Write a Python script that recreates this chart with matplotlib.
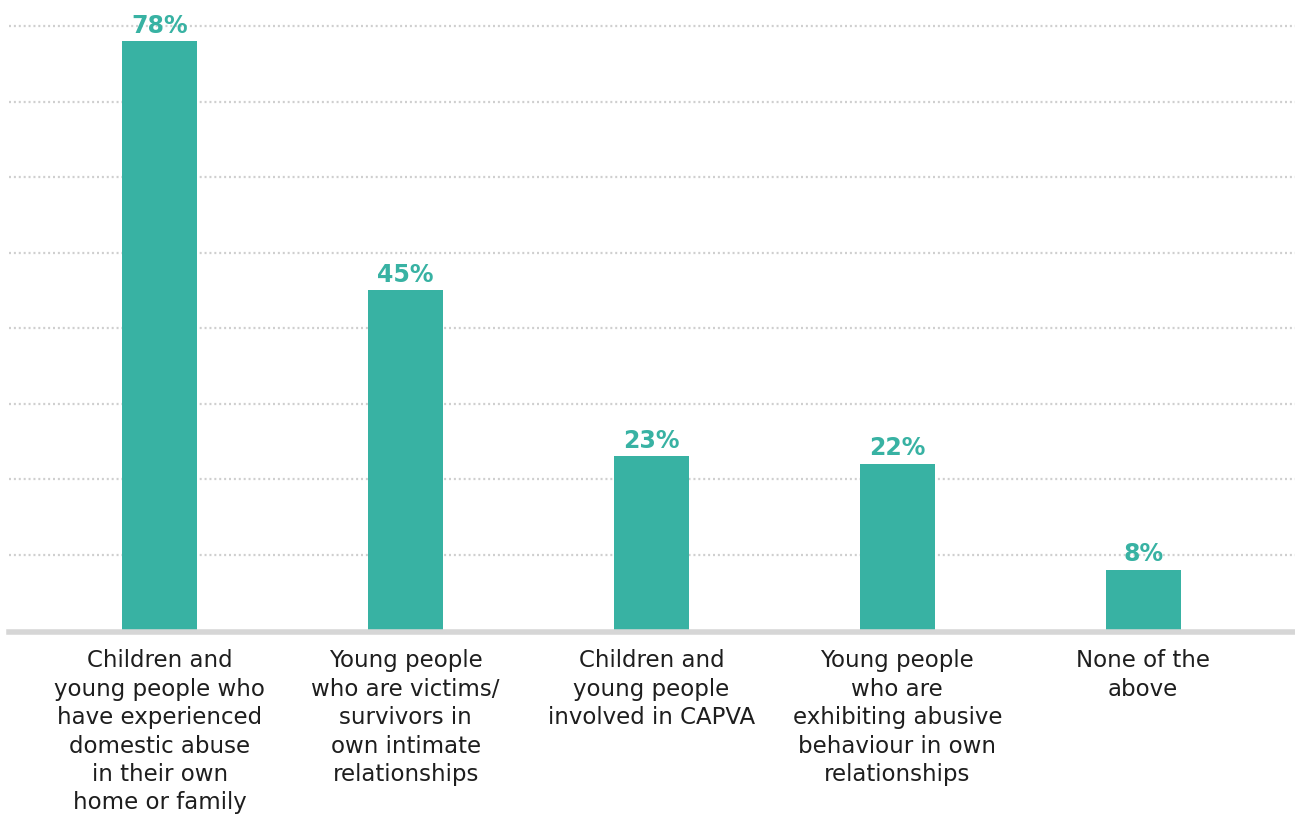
import matplotlib.pyplot as plt
import numpy as np

categories = [
    "Children and\nyoung people who\nhave experienced\ndomestic abuse\nin their own\nhome or family",
    "Young people\nwho are victims/\nsurvivors in\nown intimate\nrelationships",
    "Children and\nyoung people\ninvolved in CAPVA",
    "Young people\nwho are\nexhibiting abusive\nbehaviour in own\nrelationships",
    "None of the\nabove",
]
values = [78, 45, 23, 22, 8]
gridlines = [10, 20, 30, 40, 50, 60, 70, 80]

teal = "#38b2a3"
plt.rcParams['font.family'] = ['DejaVu Sans']

fig = plt.figure(figsize=(12.95, 8.14), dpi=100)
ax = fig.add_axes([9 / 1295, 1 - 630 / 814, 1 - 9 / 1295, 630 / 814])

x = np.arange(len(values))
for g in gridlines:
    ax.axhline(g, color="#cfcfcf", lw=1.6, ls=(0, (0.9, 1.3)), zorder=0)

bars = ax.bar(x, values, width=0.305, color=teal, zorder=2)
for xi, v in zip(x, values):
    ax.text(xi, v + 0.5, f"{v}%", ha="center", va="bottom", color=teal,
            fontsize=17, fontweight="bold", clip_on=False)

ax.axhline(-0.25, color="#d6d6d6", lw=4, zorder=3, clip_on=False)

ax.set_xlim(-0.614, 4.618)
ax.set_ylim(0, 83.5)
ax.set_xticks(x)
ax.set_xticklabels(categories, fontsize=16.5, color="#1e1e1e", linespacing=1.3)
ax.tick_params(axis="x", length=0, pad=14)
ax.set_yticks([])
for s in ax.spines.values():
    s.set_visible(False)

fig.savefig("out.png", dpi=100)
